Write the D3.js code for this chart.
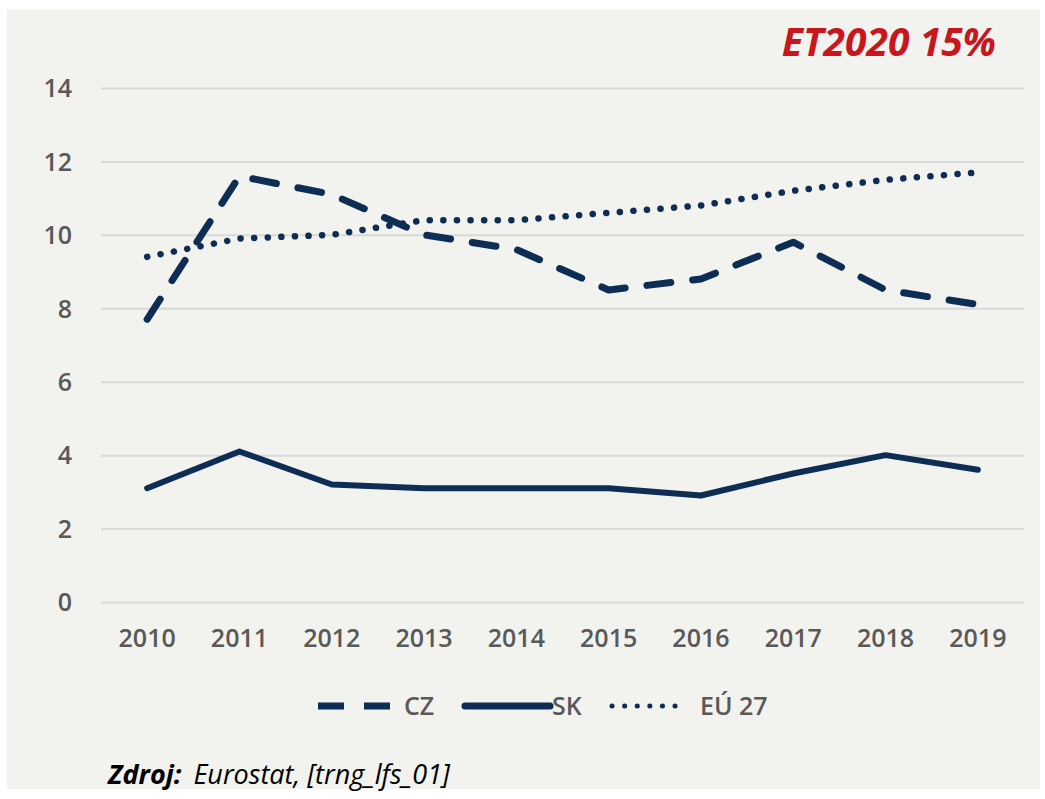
<!DOCTYPE html>
<html>
<head>
<meta charset="utf-8">
<title>ET2020 15%</title>
<style>
  body { margin: 0; background: #ffffff; }
  .tick text { font-family: "Open Sans", sans-serif; fill: #595959; font-weight: 600; }
</style>
<script src="https://cdn.jsdelivr.net/npm/d3@7/dist/d3.min.js"></script>
</head>
<body>
<script>
// data
var years = ["2010", "2011", "2012", "2013", "2014", "2015", "2016", "2017", "2018", "2019"];
var cz = [7.7, 11.6, 11.1, 10.0, 9.6, 8.5, 8.8, 9.8, 8.5, 8.1];
var sk = [3.1, 4.1, 3.2, 3.1, 3.1, 3.1, 2.9, 3.5, 4.0, 3.6];
var eu27 = [9.4, 9.9, 10.0, 10.4, 10.4, 10.6, 10.8, 11.2, 11.5, 11.7];
var yTicks = [0, 2, 4, 6, 8, 10, 12, 14];
var seriesNames = ["CZ", "SK", "EÚ 27"];

var W = 1045, H = 799;
var navy = "#0d2d55";

var svg = d3.select("body").append("svg")
  .attr("width", W)
  .attr("height", H);

// panel background
svg.append("rect")
  .attr("x", 7).attr("y", 9)
  .attr("width", 1033).attr("height", 780)
  .attr("fill", "#f2f2ee");

var margin = {left: 101, right: 1024, top: 88, bottom: 602};

var x = d3.scaleBand()
  .domain(years)
  .range([margin.left, margin.right]);

var y = d3.scaleLinear()
  .domain([0, 14])
  .range([margin.bottom, margin.top]);

// gridlines + y labels
var yAxis = svg.append("g")
  .attr("transform", "translate(" + margin.left + ",0)")
  .call(d3.axisLeft(y).tickValues(yTicks).tickSize(-(margin.right - margin.left)).tickPadding(29));
yAxis.select(".domain").remove();
yAxis.selectAll(".tick line").attr("stroke", "#d9d9d9").attr("stroke-width", 2);
yAxis.selectAll(".tick text").style("font-size", "25px").attr("dy", "0.35em");

// x labels
var xAxis = svg.append("g")
  .attr("transform", "translate(0," + margin.bottom + ")")
  .call(d3.axisBottom(x).tickSize(0).tickPadding(27));
xAxis.select(".domain").remove();
xAxis.selectAll(".tick text").style("font-size", "25px");

var line = d3.line()
  .x(function(d, i) { return x(years[i]) + x.bandwidth() / 2; })
  .y(function(d) { return y(d); });

var styles = [
  {data: cz, dash: "24 22", width: 7},
  {data: sk, dash: null, width: 6},
  {data: eu27, dash: "0.1 13.5", width: 6.5}
];

styles.forEach(function(s) {
  svg.append("path")
    .datum(s.data)
    .attr("fill", "none")
    .attr("stroke", navy)
    .attr("stroke-width", s.width)
    .attr("stroke-linecap", "round")
    .attr("stroke-linejoin", "round")
    .attr("stroke-dasharray", s.dash)
    .attr("d", line);
});

// legend
var legend = svg.append("g").attr("transform", "translate(0,706)");
var legItems = [
  {x1: 318, x2: 392, tx: 404, dash: "26 20", width: 7, cap: "butt"},
  {x1: 465, x2: 550, tx: 552, dash: null, width: 7, cap: "round"},
  {x1: 612, x2: 686, tx: 700, dash: "0.1 12.5", width: 5, cap: "round"}
];
legItems.forEach(function(l, i) {
  legend.append("line")
    .attr("x1", l.x1).attr("x2", l.x2)
    .attr("y1", 0).attr("y2", 0)
    .attr("stroke", navy)
    .attr("stroke-width", l.width)
    .attr("stroke-linecap", l.cap)
    .attr("stroke-dasharray", l.dash);
  legend.append("text")
    .attr("x", l.tx).attr("y", 0)
    .attr("dy", "0.35em")
    .style("font-family", "Open Sans, sans-serif")
    .style("font-size", "25px")
    .style("font-weight", "600")
    .attr("fill", "#595959")
    .text(seriesNames[i]);
});

// title
svg.append("text")
  .attr("x", 996).attr("y", 56)
  .attr("text-anchor", "end")
  .style("font-family", "Open Sans, sans-serif")
  .style("font-size", "39px")
  .style("font-weight", "bold")
  .style("font-style", "italic")
  .attr("fill", "#c8161d")
  .text("ET2020 15%");

// source
var src = svg.append("text")
  .attr("x", 108).attr("y", 784)
  .style("font-family", "Open Sans, sans-serif")
  .style("font-size", "27px")
  .style("font-style", "italic")
  .attr("fill", "#000000");
src.append("tspan").style("font-weight", "bold").text("Zdroj:");
src.append("tspan").attr("dx", 12).text("Eurostat, [trng_lfs_01]");
</script>
</body>
</html>
